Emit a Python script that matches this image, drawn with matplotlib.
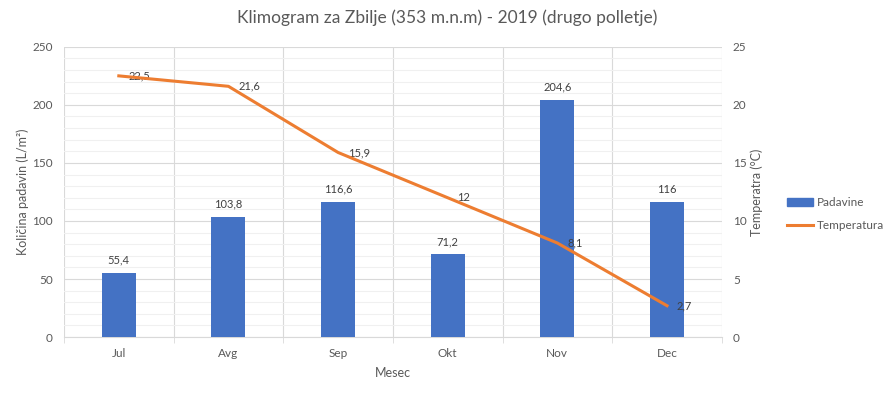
import numpy as np
import matplotlib.pyplot as plt
from matplotlib.ticker import MultipleLocator
from matplotlib.lines import Line2D
from matplotlib.patches import Patch

plt.rcParams['font.family'] = ['Lato', 'DejaVu Sans']

# data
months = ['Jul', 'Avg', 'Sep', 'Okt', 'Nov', 'Dec']
padavine = [55.4, 103.8, 116.6, 71.2, 204.6, 116]
temperatura = [22.5, 21.6, 15.9, 12, 8.1, 2.7]

txt = '#595959'
bar_col = '#4472c4'
line_col = '#ed7d31'

fig = plt.figure(figsize=(8.95, 3.97), dpi=100)
ax = fig.add_axes([0.0715, 0.151, 0.735, 0.731])
ax2 = ax.twinx()

x = np.arange(len(months))
bars = ax.bar(x, padavine, width=0.31, color=bar_col, zorder=3)
for xi, v in zip(x, padavine):
    ax.annotate(f'{v:g}'.replace('.', ','), (xi, v), xytext=(0, 5), textcoords='offset points',
                ha='center', va='bottom', fontsize=8, color='#404040')

ax2.plot(x, temperatura, color=line_col, lw=2.2, zorder=4)
for xi, v in zip(x, temperatura):
    ax2.annotate(f'{v:g}'.replace('.', ','), (xi, v), xytext=(7, 0), textcoords='offset points',
                 ha='left', va='center', fontsize=8, color='#404040')

ax.set_xlim(-0.5, len(months) - 0.5)
ax.set_ylim(0, 250)
ax2.set_ylim(0, 25)
ax.yaxis.set_major_locator(MultipleLocator(50))
ax.yaxis.set_minor_locator(MultipleLocator(10))
ax2.yaxis.set_major_locator(MultipleLocator(5))

ax.set_xticks(x)
ax.set_xticklabels(months)
ax.set_xticks(np.arange(-0.5, len(months)), minor=True)
ax.tick_params(axis='x', which='major', length=0, pad=8)
ax.tick_params(axis='x', which='minor', length=4, color='#d9d9d9')
ax.tick_params(axis='y', which='both', length=0, pad=8)
ax2.tick_params(axis='y', length=0, pad=8)
for a in (ax, ax2):
    a.tick_params(labelsize=8.5, labelcolor=txt)
    for s in a.spines.values():
        s.set_visible(False)
ax.spines['bottom'].set_visible(True)
ax.spines['bottom'].set_color('#d9d9d9')

ax.grid(axis='y', which='major', color='#d9d9d9', lw=0.8, zorder=0)
ax.grid(axis='y', which='minor', color='#f0f0f0', lw=0.8, zorder=0)
ax.grid(axis='x', which='minor', color='#d9d9d9', lw=0.8, zorder=0)
ax.set_axisbelow(True)

ax.set_ylabel('Količina padavin (L/m²)', fontsize=9, color=txt, labelpad=2)
ax2.set_ylabel('Temperatra (°C)', fontsize=9, color=txt, labelpad=3)
ax.set_xlabel('Mesec', fontsize=9, color=txt, labelpad=6)
fig.suptitle('Klimogram za Zbilje (353 m.n.m) - 2019 (drugo polletje)', fontsize=12.5, color=txt, y=0.975)

handles = [Patch(color=bar_col, label='Padavine'), Line2D([], [], color=line_col, lw=2.2, label='Temperatura')]
fig.legend(handles=handles, loc='center left', bbox_to_anchor=(0.868, 0.46), frameon=False,
           fontsize=8.5, labelcolor=txt, handlelength=2.2, handleheight=0.7, labelspacing=1.0,
           handletextpad=0.3)

fig.savefig('out.png', dpi=100)
